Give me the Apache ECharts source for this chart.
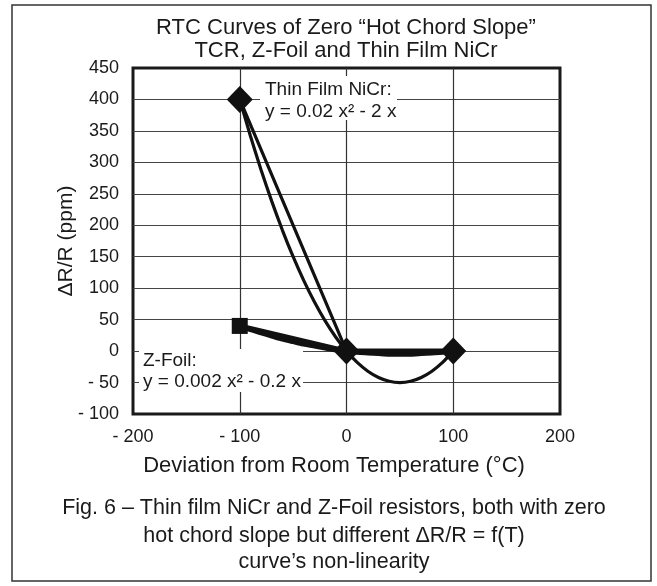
<!DOCTYPE html>
<html>
<head>
<meta charset="utf-8">
<script src="https://cdn.jsdelivr.net/npm/echarts@6/dist/echarts.min.js"></script>
<style>
html,body{margin:0;padding:0;background:#fff;}
#c{width:657px;height:586px;}
</style>
</head>
<body>
<div id="c"></div>
<script>
// ---- data ----
var titleLines = ['RTC Curves of Zero \u201cHot Chord Slope\u201d', 'TCR, Z-Foil and Thin Film NiCr'];
var xAxisName = 'Deviation from Room Temperature (\u00b0C)';
var yAxisName = '\u0394R/R (ppm)';
var captionLines = ['Fig. 6 \u2013 Thin film NiCr and Z-Foil resistors, both with zero',
  'hot chord slope but different \u0394R/R = f(T)',
  'curve\u2019s non-linearity'];
var nicrLabel = ['Thin Film NiCr:', 'y = 0.02 x\u00b2 - 2 x'];
var zfoilLabel = ['Z-Foil:', 'y = 0.002 x\u00b2 - 0.2 x'];

var chordX = [-100, 0, 100];
var nicrChord = [400, 0, 0];
var zfoilChord = [40, 0, 0];

var curveX = [-100, -90, -80, -70, -60, -50, -40, -30, -20, -10, 0, 10, 20, 30, 40, 50, 60, 70, 80, 90, 100];
var nicrCurve = [400, 342, 288, 238, 192, 150, 112, 78, 48, 22, 0, -18, -32, -42, -48, -50, -48, -42, -32, -18, 0];
var zfoilCurve = [40, 34, 29, 24, 19, 15, 11, 8, 5, 2, 0, -2, -3, -4, -5, -5, -5, -4, -3, -2, 0];

var xMin = -200, xMax = 200, xStep = 100;
var yMin = -100, yMax = 450, yStep = 50;

function pairs(xs, ys) { return xs.map(function (x, i) { return [x, ys[i]]; }); }
function tickFmt(v) { return v < 0 ? '- ' + Math.abs(v) : String(v); }

var FONT = '"Liberation Sans", Arial, Helvetica, sans-serif';
var INK = '#1a1a1a';

var chart = echarts.init(document.getElementById('c'), null, { renderer: 'canvas' });

var zfoilChordData = pairs(chordX, zfoilChord).map(function (p, i) {
  return i === 0 ? { value: p } : { value: p, symbol: 'none' };
});

function txt(x, y, s, size, align, extra) {
  var o = { type: 'text', x: x, y: y, z: 100,
    style: { text: s, fill: INK, font: size + 'px ' + FONT, textAlign: align || 'center', textVerticalAlign: 'middle' } };
  if (extra) { for (var k in extra) o[k] = extra[k]; }
  return o;
}

var option = {
  animation: false,
  backgroundColor: '#fff',
  grid: {
    left: 133, right: 97, top: 68, bottom: 172,
    show: true, borderColor: '#1a1a1a', borderWidth: 3, backgroundColor: 'transparent'
  },
  xAxis: {
    type: 'value', min: xMin, max: xMax, interval: xStep,
    axisLine: { show: false },
    axisTick: { show: false },
    axisLabel: { color: INK, fontFamily: FONT, fontSize: 18, margin: 14, formatter: tickFmt },
    splitLine: { show: true, showMinLine: false, showMaxLine: false, lineStyle: { color: '#333', width: 1.2 } }
  },
  yAxis: {
    type: 'value', min: yMin, max: yMax, interval: yStep,
    axisLine: { show: false },
    axisTick: { show: false },
    axisLabel: { color: INK, fontFamily: FONT, fontSize: 18, margin: 14, formatter: tickFmt },
    splitLine: { show: true, showMinLine: false, showMaxLine: false, lineStyle: { color: '#444', width: 1.2 } }
  },
  series: [
    {
      name: 'Z-Foil curve', type: 'line', data: pairs(curveX, zfoilCurve), smooth: 0.2,
      symbol: 'none', lineStyle: { color: '#111', width: 5 }, z: 3
    },
    {
      name: 'Z-Foil chord', type: 'line', data: zfoilChordData,
      symbol: 'rect', symbolSize: 16, itemStyle: { color: '#111' },
      lineStyle: { color: '#111', width: 5 }, z: 3
    },
    {
      name: 'NiCr curve', type: 'line', data: pairs(curveX, nicrCurve), smooth: 0.2,
      symbol: 'none', lineStyle: { color: '#111', width: 3.2 }, z: 4
    },
    {
      name: 'NiCr chord', type: 'line', data: pairs(chordX, nicrChord),
      symbol: 'diamond', symbolSize: [26, 27], itemStyle: { color: '#111' },
      lineStyle: { color: '#111', width: 3.2 }, z: 5
    }
  ],
  graphic: [
    { type: 'rect', shape: { x: 12, y: 5, width: 639, height: 576 },
      style: { fill: 'none', stroke: '#333', lineWidth: 1.5 }, z: 100 },
    txt(346, 28, titleLines[0], 22),
    txt(346, 51, titleLines[1], 22),
    txt(66, 241, yAxisName, 21, 'center', { rotation: Math.PI / 2 }),
    txt(334, 466, xAxisName, 22),
    txt(334, 508, captionLines[0], 21.5),
    txt(334, 536, captionLines[1], 21.5),
    txt(334, 562, captionLines[2], 21.5),
    // annotation boxes
    { type: 'rect', shape: { x: 260, y: 76, width: 137, height: 44 }, style: { fill: '#fff' }, z: 1 },
    txt(265, 90, nicrLabel[0], 19, 'left'),
    txt(265, 112, nicrLabel[1], 19, 'left'),
    { type: 'rect', shape: { x: 139, y: 349, width: 164, height: 43 }, style: { fill: '#fff' }, z: 1 },
    txt(143, 361, zfoilLabel[0], 19, 'left'),
    txt(143, 382, zfoilLabel[1], 19, 'left')
  ]
};
chart.setOption(option);
</script>
</body>
</html>
